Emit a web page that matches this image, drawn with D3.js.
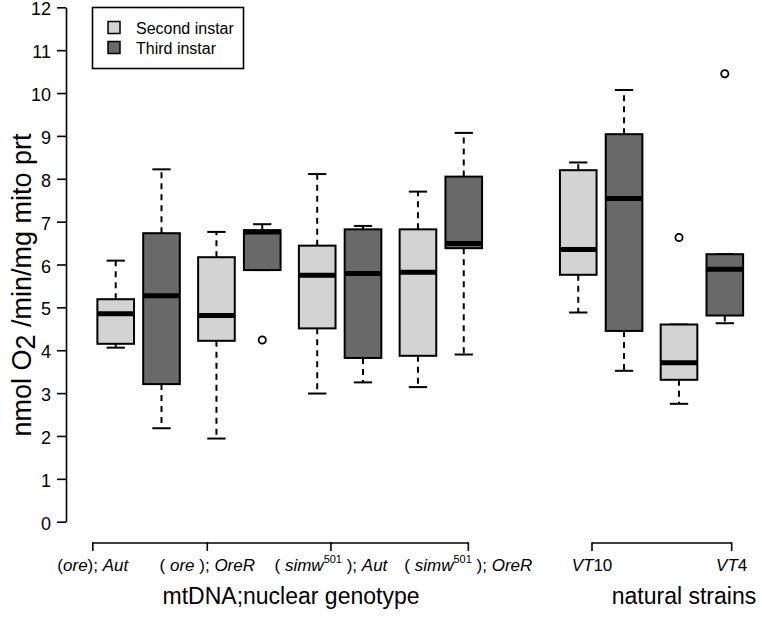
<!DOCTYPE html>
<html><head><meta charset="utf-8">
<script src="https://cdn.jsdelivr.net/npm/d3@7"></script>
<style>body{margin:0;background:#fff}svg{display:block;font-family:"Liberation Sans",Arial,Helvetica,sans-serif}</style>
</head><body><svg id="c" width="762" height="620"></svg>
<script>
// ---- data ----
const positions   = [1, 2, 3.2, 4.2, 5.4, 6.4, 7.6, 8.6, 11.1, 12.1, 13.3, 14.3];
const instar      = ["Second","Third","Second","Third","Second","Third","Second","Third","Second","Third","Second","Third"];
const whiskerLow  = [4.06, 2.18, 1.94, 5.87, 2.99, 3.25, 3.14, 3.90, 4.88, 3.52, 2.75, 4.63];
const q1          = [4.15, 3.21, 4.22, 5.87, 4.51, 3.82, 3.87, 6.38, 5.76, 4.45, 3.31, 4.81];
const median      = [4.85, 5.27, 4.81, 6.76, 5.75, 5.79, 5.82, 6.49, 6.35, 7.54, 3.71, 5.89];
const q3          = [5.19, 6.73, 6.17, 6.80, 6.44, 6.82, 6.82, 8.05, 8.20, 9.04, 4.60, 6.24];
const whiskerHigh = [6.09, 8.22, 6.76, 6.94, 8.11, 6.90, 7.70, 9.07, 8.38, 10.07, 4.60, 6.24];
const outliers    = [[], [], [], [4.24], [], [], [], [], [], [], [6.63], [10.45]];
const yTicks      = [0,1,2,3,4,5,6,7,8,9,10,11,12];
const genoTicks   = [0.5, 3.0, 5.7, 8.7];
// [prefix, italic mtDNA, superscript, middle, italic nuclear]
const genoLabels  = [["(","ore","","); ","Aut"],["( ","ore",""," ); ","OreR"],["( ","simw","501"," ); ","Aut"],["( ","simw","501"," ); ","OreR"]];
const strainTicks = [11.4, 14.45];
const strainLabels= [["VT","10"],["VT","4"]];
const legendItems = ["Second instar","Third instar"];
const fills = {Second:"#d3d3d3", Third:"#696969"};

// ---- scales ----
const svg = d3.select("#c");
const x = d3.scaleLinear().domain([1, 14.3]).range([115.7, 724.8]);
const y = d3.scaleLinear().domain([0, 12]).range([521.7, 7.3]);
const bw = x(1.8) - x(1);

// y axis
const yAxis = svg.append("g").attr("transform","translate(66,0)")
  .call(d3.axisLeft(y).tickValues(yTicks).tickSize(9).tickPadding(6).tickSizeOuter(0));
yAxis.select(".domain").attr("stroke","#000").attr("stroke-width",1.6);
yAxis.selectAll(".tick line").attr("stroke","#000").attr("stroke-width",1.6);
yAxis.selectAll(".tick text").attr("font-size",18).attr("fill","#000").attr("dy","0.42em")
  .attr("font-family","Liberation Sans, Arial, sans-serif");

// y label
const yl = svg.append("text").attr("transform","translate(31,285) rotate(-90)")
  .attr("text-anchor","middle").attr("font-size",27).attr("fill","#000");
yl.append("tspan").text("nmol O");
yl.append("tspan").text("2").attr("dy",4);
yl.append("tspan").text(" /min/mg mito prt").attr("dy",-4);

// boxes
const data = positions.map((p,i)=>({p, g:instar[i], wl:whiskerLow[i], q1:q1[i], md:median[i], q3:q3[i], wh:whiskerHigh[i], out:outliers[i]}));
const gB = svg.append("g");
data.forEach(d=>{
  const cx = x(d.p);
  const g = gB.append("g");
  if (d.wh > d.q3) {
    g.append("line").attr("x1",cx).attr("x2",cx).attr("y1",y(d.q3)).attr("y2",y(d.wh))
      .attr("stroke","#000").attr("stroke-width",2).attr("stroke-dasharray","6,5");
  }
  g.append("line").attr("x1",cx-bw/4).attr("x2",cx+bw/4).attr("y1",y(d.wh)).attr("y2",y(d.wh))
    .attr("stroke","#000").attr("stroke-width",2);
  if (d.wl < d.q1) {
    g.append("line").attr("x1",cx).attr("x2",cx).attr("y1",y(d.q1)).attr("y2",y(d.wl))
      .attr("stroke","#000").attr("stroke-width",2).attr("stroke-dasharray","6,5");
  }
  g.append("line").attr("x1",cx-bw/4).attr("x2",cx+bw/4).attr("y1",y(d.wl)).attr("y2",y(d.wl))
    .attr("stroke","#000").attr("stroke-width",2);
  g.append("rect").attr("x",cx-bw/2).attr("width",bw).attr("y",y(d.q3)).attr("height",y(d.q1)-y(d.q3))
    .attr("fill",fills[d.g]).attr("stroke","#000").attr("stroke-width",2);
  g.append("line").attr("x1",cx-bw/2).attr("x2",cx+bw/2).attr("y1",y(d.md)).attr("y2",y(d.md))
    .attr("stroke","#000").attr("stroke-width",5);
  d.out.forEach(o=>{
    g.append("circle").attr("cx",cx).attr("cy",y(o)).attr("r",3.6)
      .attr("fill","#fff").attr("stroke","#000").attr("stroke-width",1.8);
  });
});

// bottom bracket axes
function bracket(ticks){
  const g = svg.append("g").attr("stroke","#000").attr("stroke-width",1.6).attr("fill","none");
  g.append("line").attr("x1",x(ticks[0])).attr("x2",x(ticks[ticks.length-1])).attr("y1",543).attr("y2",543);
  ticks.forEach(t=>g.append("line").attr("x1",x(t)).attr("x2",x(t)).attr("y1",542.2).attr("y2",551));
}
bracket(genoTicks);
bracket(strainTicks);

// genotype labels
genoLabels.forEach((parts,i)=>{
  const t = svg.append("text").attr("x",x(genoTicks[i])).attr("y",571)
    .attr("text-anchor","middle").attr("font-size",17).attr("fill","#000");
  t.append("tspan").text(parts[0]);
  t.append("tspan").text(parts[1]).attr("font-style","italic");
  if (parts[2]) {
    t.append("tspan").text(parts[2]).attr("font-size",11).attr("dy",-8);
    t.append("tspan").text(parts[3]).attr("dy",8);
  } else {
    t.append("tspan").text(parts[3]);
  }
  t.append("tspan").text(parts[4]).attr("font-style","italic");
});
strainLabels.forEach((parts,i)=>{
  const t = svg.append("text").attr("x",x(strainTicks[i])).attr("y",571)
    .attr("text-anchor","middle").attr("font-size",17).attr("fill","#000");
  t.append("tspan").text(parts[0]).attr("font-style","italic");
  t.append("tspan").text(parts[1]);
});

// group titles
svg.append("text").attr("x",291).attr("y",604).attr("text-anchor","middle")
  .attr("font-size",23).attr("fill","#000").text("mtDNA;nuclear genotype");
svg.append("text").attr("x",684).attr("y",604).attr("text-anchor","middle")
  .attr("font-size",23).attr("fill","#000").text("natural strains");

// legend
const lg = svg.append("g");
lg.append("rect").attr("x",92.5).attr("y",7.5).attr("width",151).attr("height",61)
  .attr("fill","#fff").attr("stroke","#000").attr("stroke-width",1.6);
legendItems.forEach((txt,i)=>{
  const yy = 27.5 + i*20;
  lg.append("rect").attr("x",108).attr("y",yy-6).attr("width",12).attr("height",12)
    .attr("fill",fills[instar[i]]).attr("stroke","#000").attr("stroke-width",1.5);
  lg.append("text").attr("x",136).attr("y",yy+6).attr("font-size",16).attr("fill","#000").text(txt);
});
</script></body></html>
